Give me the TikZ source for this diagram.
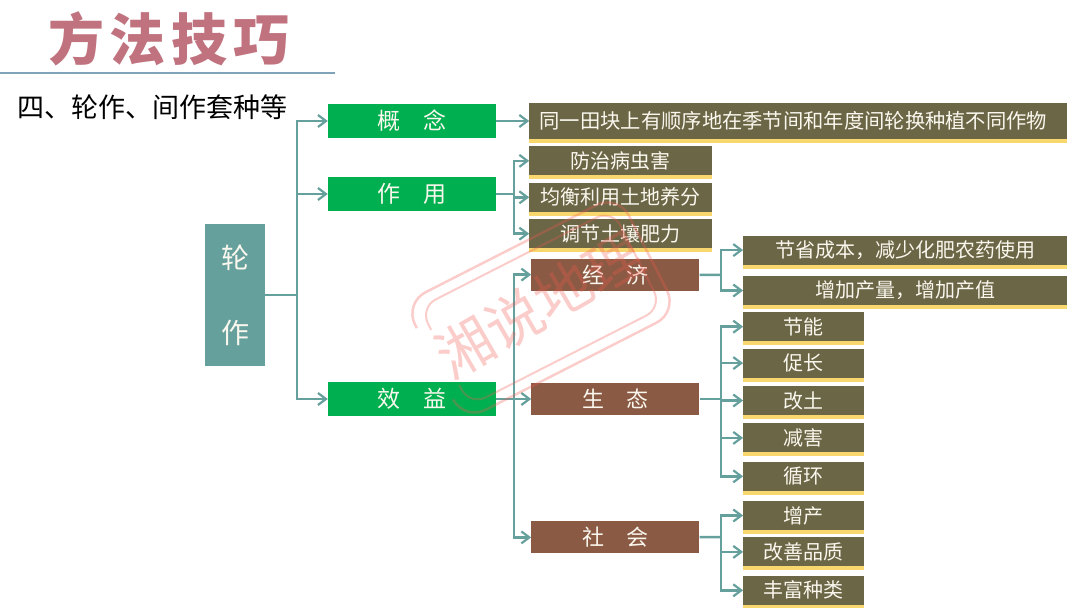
\documentclass[tikz,border=0pt]{standalone}
\usepackage{fontspec}
\setmainfont{Noto Sans CJK SC}
\usetikzlibrary{positioning,arrows.meta,shadows}
\definecolor{titlered}{RGB}{192,115,126}
\definecolor{ruleblue}{RGB}{127,163,187}
\definecolor{tealbox}{RGB}{102,160,156}
\definecolor{greenbox}{RGB}{0,176,80}
\definecolor{brownbox}{RGB}{138,90,68}
\definecolor{olivebox}{RGB}{107,102,70}
\definecolor{leafshade}{RGB}{248,216,110}
\definecolor{softwhite}{RGB}{250,247,238}
\definecolor{stampred}{RGB}{240,90,80}
\newcommand{\fsz}[1]{\fontsize{#1pt}{#1pt}\selectfont}

\begin{document}
\begin{tikzpicture}[
  x=1pt, y=-1pt,
  flow/.style={-{Straight Barb[length=8pt,width=12pt,line width=2.2pt]}, line width=2.5pt, draw=tealbox},
  link/.style={line width=2.5pt, draw=tealbox},
  headbox/.style={fill=greenbox, text=softwhite, minimum width=168pt, minimum height=34pt,
                  inner sep=0pt, font=\fsz{23}},
  midbox/.style={fill=brownbox, text=softwhite, minimum width=168pt, minimum height=32pt,
                 inner sep=0pt, font=\fsz{22}},
  leaf/.style={fill=olivebox, text=softwhite, minimum height=29pt, inner sep=0pt, font=\fsz{20},
               general shadow={fill=leafshade, shadow yshift=-4pt}},
  stamp/.style={draw=stampred, rounded corners=24pt, line width=2.5pt, opacity=0.3},
]
\useasboundingbox (0,0) rectangle (1080,608);

% ---- heading ----
\node[text=titlered, font=\fsz{56}\bfseries, inner sep=0pt] (title) at (169,39)
  {方\hspace{6pt}法\hspace{6pt}技\hspace{6pt}巧};
\coordinate (ruleL) at (0,73);
\coordinate (ruleR) at (335,73);
\draw[draw=ruleblue, line width=2.5pt] (ruleL) -- (ruleR);
\node[font=\fsz{27}, inner sep=0pt, anchor=west] (sub) at (17,107) {四、轮作、间作套种等};

% ---- root ----
\node[fill=tealbox, text=softwhite, minimum width=60pt, minimum height=142pt, inner sep=0pt,
      align=center, font=\fsz{28}] (root) at (235,295)
  {轮\\[47pt]作};

% ---- green heads ----
\node[headbox] (gainian) at (412,121) {概\quad 念};
\node[headbox] (zuoyong) at (412,194) {作\quad 用};
\node[headbox] (xiaoyi) at (412,399) {效\quad 益};

% ---- leaves of the first two heads ----
\node[leaf, minimum width=538pt, minimum height=36pt, right=33pt of gainian, font=\fsz{20.3}] (define)
  {同一田块上有顺序地在季节间和年度间轮换种植不同作物\kern10pt};
\node[leaf, minimum width=183pt, below right=7pt and 0pt of define.south west] (use1) {防治病虫害};
\node[leaf, minimum width=183pt, below=7pt of use1] (use2) {均衡利用土地养分};
\node[leaf, minimum width=183pt, below=7pt of use2] (use3) {调节土壤肥力};

% ---- brown branches ----
\node[midbox, right=35pt of xiaoyi] (shengtai) {生\quad 态};
\node[midbox, above=92pt of shengtai] (jingji) {经\quad 济};
\node[midbox, below=106pt of shengtai] (shehui) {社\quad 会};

% ---- leaves of the branches ----
\node[leaf, minimum width=324pt, right=43.5pt of jingji, yshift=24.5pt] (eco1) {节省成本，减少化肥农药使用};
\node[leaf, minimum width=324pt, below=11pt of eco1] (eco2) {增加产量，增加产值};

\node[leaf, minimum width=121pt, right=43.5pt of shengtai, yshift=-1.5pt] (bio3) {改土};
\node[leaf, minimum width=121pt, above=8pt of bio3] (bio2) {促长};
\node[leaf, minimum width=121pt, above=7pt of bio2] (bio1) {节能};
\node[leaf, minimum width=121pt, below=8pt of bio3] (bio4) {减害};
\node[leaf, minimum width=121pt, below=9pt of bio4] (bio5) {循环};

\node[leaf, minimum width=121pt, right=43.5pt of shehui, yshift=-14.5pt] (soc2) {改善品质};
\node[leaf, minimum width=121pt, above=7pt of soc2] (soc1) {增产};
\node[leaf, minimum width=121pt, below=9pt of soc2] (soc3) {丰富种类};

% ---- hubs ----
\coordinate (hubroot) at (297,295);
\coordinate (hubuse) at (514,194);
\coordinate (hubgain) at (514,399);
\coordinate (hubeco) at (721,275);
\coordinate (hubbio) at (721,399);
\coordinate (hubsoc) at (721,537);

% ---- edges ----
\draw[link] (root) -- (hubroot);
\foreach \t in {gainian,zuoyong,xiaoyi}
  \draw[flow] (hubroot) |- (\t.west);
\draw[flow] (gainian) -- (define);

\draw[link] (zuoyong) -- (hubuse);
\foreach \t in {use1,use2,use3}
  \draw[flow] (hubuse) |- (\t.west);

\draw[flow] (xiaoyi) -- (shengtai);
\foreach \t in {jingji,shehui}
  \draw[flow] (hubgain) |- (\t.west);

\draw[link] (jingji) -- (hubeco);
\foreach \t in {eco1,eco2}
  \draw[flow] (hubeco) |- (\t.west);

\draw[link] (shengtai) -- (hubbio);
\foreach \t in {bio1,bio2,bio3,bio4,bio5}
  \draw[flow] (hubbio) |- (\t.west);

\draw[link] (shehui) -- (hubsoc);
\foreach \t in {soc1,soc2,soc3}
  \draw[flow] (hubsoc) |- (\t.west);

% ---- stamp, open on its left side ----
\begin{scope}[shift={(541,307.5)}, rotate=27]
  \draw[stamp] (-120,-38) -- (-120,-66) -- (120,-66) -- (120,66) -- (-120,66) -- (-120,44);
  \draw[stamp, rounded corners=18pt, line width=2pt] (-108,-30) -- (-108,-55) -- (108,-55) -- (108,55) -- (-108,55) -- (-108,32);
\end{scope}
\node[text=stampred, opacity=0.3, rotate=30, inner sep=0pt, font=\fsz{57}] (stamptext) at (539,305)
  {湘说地理};
\end{tikzpicture}
\end{document}
